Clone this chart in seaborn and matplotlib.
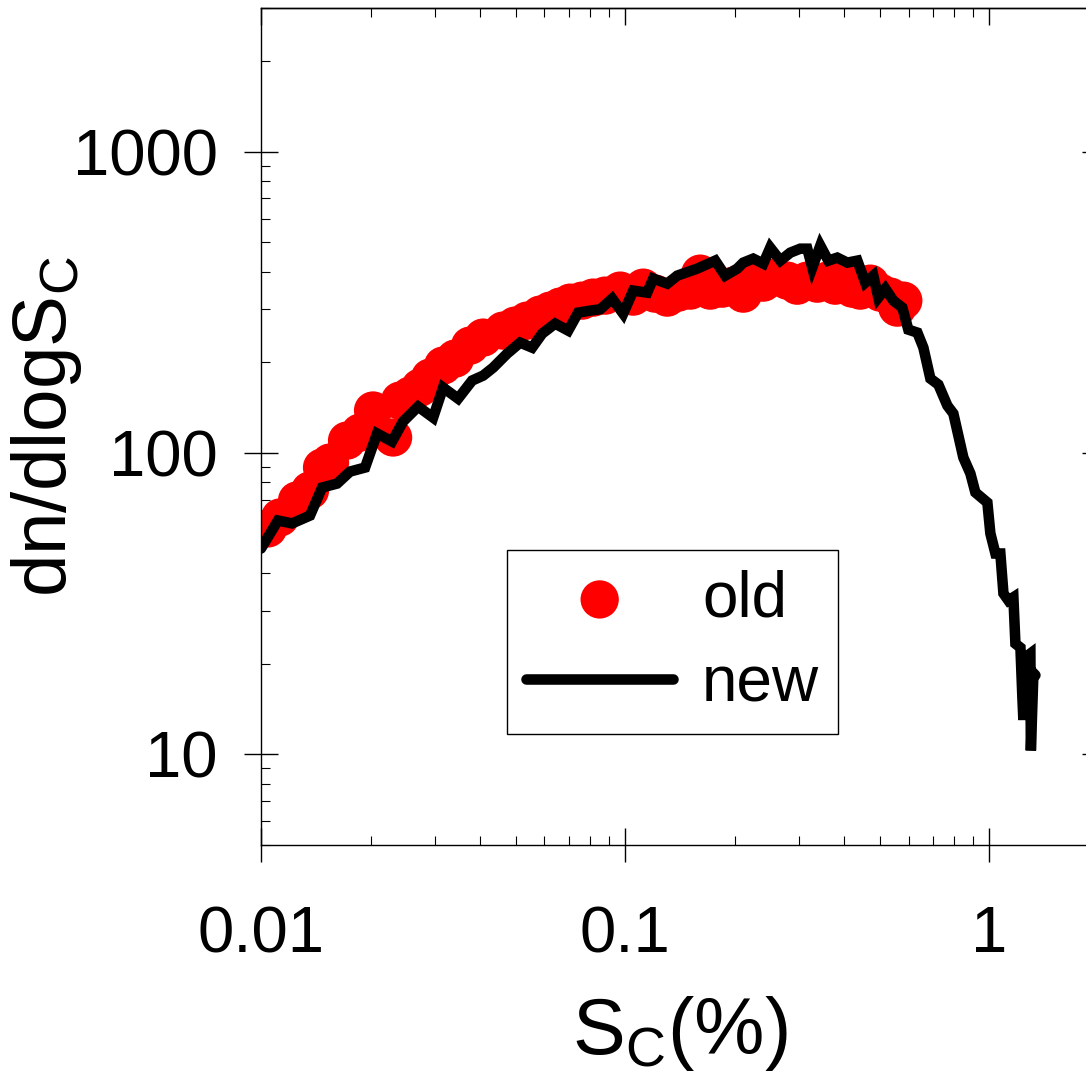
import numpy as np
import pandas as pd
import matplotlib
matplotlib.use('Agg')
import matplotlib.pyplot as plt
import seaborn as sns
from matplotlib.ticker import LogLocator, NullFormatter

# ---------------- data ----------------
old_sc = [0.01045, 0.01128, 0.01256, 0.01363, 0.01471, 0.01547, 0.01723, 0.01871, 0.02031, 0.02305,
          0.02409, 0.02567, 0.02734, 0.02912, 0.03162, 0.03412, 0.03751, 0.04073, 0.04622, 0.04986,
          0.05380, 0.05841, 0.06223, 0.06629, 0.07063, 0.07618, 0.08167, 0.08811, 0.09690, 0.1052,
          0.1121, 0.1209, 0.1305, 0.1398, 0.1509, 0.1607, 0.1712, 0.1847, 0.1981, 0.2110,
          0.2247, 0.2394, 0.2550, 0.2787, 0.2969, 0.3162, 0.3369, 0.3589, 0.3775, 0.3972,
          0.4204, 0.4421, 0.4710, 0.5018, 0.5346, 0.5588, 0.5803]
old_dn = [56.2, 61.1, 69.6, 75.1, 89.5, 93.0, 110.0, 116.9, 138.4, 112.6,
          149.3, 155.1, 164.9, 178.0, 195.1, 205.8, 227.3, 241.6, 254.9, 264.8,
          275.1, 288.0, 296.9, 306.2, 315.6, 320.5, 328.0, 333.0, 346.0, 330.5,
          353.9, 338.1, 328.0, 340.7, 346.0, 393.9, 346.0, 351.2, 359.3, 338.1,
          382.1, 367.8, 382.1, 373.4, 359.3, 373.4, 364.9, 373.4, 359.3, 373.4,
          351.2, 346.0, 364.9, 340.7, 330.5, 303.8, 320.5]

new_sc = [0.01000, 0.01113, 0.01217, 0.01363, 0.01471, 0.01618, 0.01756, 0.01931, 0.02083, 0.02290,
          0.02455, 0.02700, 0.02969, 0.03162, 0.03477, 0.03799, 0.04073, 0.04340, 0.04741, 0.05146,
          0.05553, 0.05916, 0.06422, 0.06974, 0.07427, 0.08012, 0.08539, 0.09211, 0.09874, 0.1052,
          0.1149, 0.1194, 0.1305, 0.1390, 0.1577, 0.1767, 0.1882, 0.2031, 0.2110, 0.2247,
          0.2394, 0.2502, 0.2667, 0.2840, 0.3025, 0.3162, 0.3264, 0.3434, 0.3612, 0.3823,
          0.4073, 0.4340, 0.4563, 0.4801, 0.4955, 0.5179, 0.5449, 0.5768, 0.5991, 0.6343,
          0.6589, 0.6887, 0.7244, 0.7667, 0.7964, 0.8483, 0.8869, 0.9153, 0.9874, 1.0063,
          1.039, 1.072, 1.093, 1.128, 1.164, 1.179, 1.217, 1.232, 1.240, 1.256,
          1.296, 1.300, 1.321, 1.338]
new_dn = [48.2, 59.7, 58.4, 62.0, 76.8, 79.2, 86.8, 89.5, 116.1, 109.2,
          127.2, 142.6, 131.1, 164.9, 151.6, 174.0, 180.7, 192.1, 213.8, 232.5,
          223.8, 249.1, 268.9, 254.9, 292.4, 296.9, 300.0, 325.5, 290.2, 346.0,
          340.7, 379.2, 364.9, 388.0, 409.3, 435.1, 388.0, 409.3, 428.5, 441.8,
          425.2, 480.4, 435.1, 462.4, 476.7, 476.7, 412.4, 487.8, 435.1, 445.1,
          428.5, 435.1, 367.8, 388.0, 328.0, 351.2, 320.5, 303.8, 256.8, 251.0,
          223.8, 176.6, 168.7, 143.7, 135.2, 96.6, 85.5, 74.0, 68.5, 54.1,
          46.4, 46.4, 34.2, 32.4, 33.2, 23.3, 22.6, 15.5, 13.0, 21.0,
          21.6, 10.3, 18.6, 18.3]

x_ticks = [0.01, 0.1, 1]
x_labels = ['0.01', '0.1', '1']
y_ticks = [10, 100, 1000]
y_labels = ['10', '100', '1000']

# ---------------- style ----------------
sns.set_theme(style='ticks')
plt.rcParams['font.family'] = ['Liberation Sans', 'DejaVu Sans']
plt.rcParams['mathtext.fontset'] = 'custom'
plt.rcParams['mathtext.rm'] = 'Liberation Sans'
plt.rcParams['mathtext.it'] = 'Liberation Sans:italic'
plt.rcParams['mathtext.bf'] = 'Liberation Sans:bold'
for k in ['text.color', 'axes.labelcolor', 'xtick.color', 'ytick.color',
          'xtick.labelcolor', 'ytick.labelcolor', 'axes.edgecolor']:
    plt.rcParams[k] = 'black'

fig = plt.figure(figsize=(10.86, 10.81), dpi=100)
ax = fig.add_axes([261 / 1086, 236 / 1081, 838 / 1086, 837 / 1081])
ax.set_xscale('log')
ax.set_yscale('log')

old = pd.DataFrame({'Sc': old_sc, 'dn': old_dn})
new = pd.DataFrame({'Sc': new_sc, 'dn': new_dn})

sns.scatterplot(data=old, x='Sc', y='dn', ax=ax, s=760, color='#ff0000',
                edgecolor='none', linewidth=0, label='old', zorder=2)
sns.lineplot(data=new, x='Sc', y='dn', ax=ax, color='black', lw=7.6,
             estimator=None, sort=False, label='new', zorder=3,
             solid_joinstyle='miter')

ax.set_xlim(0.01, 2)
ax.set_ylim(5, 3000)

ax.set_xticks(x_ticks)
ax.set_xticklabels(x_labels)
ax.set_yticks(y_ticks)
ax.set_yticklabels(y_labels)
ax.xaxis.set_minor_locator(LogLocator(base=10, subs=np.arange(2, 10) * 1.0, numticks=20))
ax.yaxis.set_minor_locator(LogLocator(base=10, subs=np.arange(2, 10) * 1.0, numticks=20))
ax.xaxis.set_minor_formatter(NullFormatter())
ax.yaxis.set_minor_formatter(NullFormatter())

ax.tick_params(which='major', direction='inout', length=24.5, width=1.0, color='black',
               labelcolor='black', labelsize=47, bottom=True, left=True, right=True, top=False)
ax.tick_params(axis='y', which='major', pad=19)
ax.tick_params(axis='x', which='major', pad=31)
ax.tick_params(which='minor', direction='in', length=6.5, width=0.8, color='black',
               bottom=True, left=True, right=True, top=False)

sec = ax.secondary_xaxis('top')
sec.set_xticks(x_ticks)
sec.xaxis.set_minor_locator(LogLocator(base=10, subs=np.arange(2, 10) * 1.0, numticks=20))
sec.tick_params(which='major', direction='in', length=12.2, width=1.0, color='black',
                labeltop=False)
sec.tick_params(which='minor', direction='in', length=6.5, width=0.8, color='black')
sec.xaxis.set_minor_formatter(NullFormatter())
sec.spines['top'].set_linewidth(1.0)
sec.spines['top'].set_color('black')

for sp in ax.spines.values():
    sp.set_linewidth(1.0)
    sp.set_color('black')

ax.set_xlabel('S$_\\mathregular{C}$(%)', fontsize=57, color='black')
ax.set_ylabel('dn/dlogS$_\\mathregular{C}$', fontsize=55, color='black')
ax.xaxis.set_label_coords(0.5, -0.178)
ax.yaxis.set_label_coords(-0.211, 0.5)

leg = ax.legend(loc='upper left', bbox_to_anchor=(0.2936, 0.3524), borderaxespad=0,
                fontsize=46, frameon=True, fancybox=False, edgecolor='black',
                framealpha=1, handlelength=2.3, handletextpad=0.45, borderpad=0.3,
                labelspacing=0.4, markerscale=1)
leg.get_frame().set_linewidth(1.0)
for t in leg.get_texts():
    t.set_color('black')

fig.savefig('out.png', dpi=100, facecolor='white')
